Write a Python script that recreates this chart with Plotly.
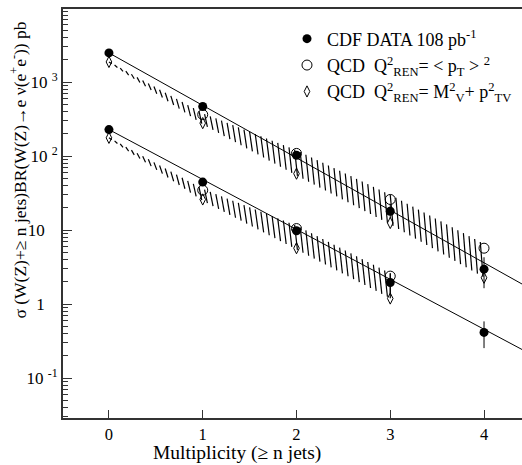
import numpy as np
import plotly.graph_objects as go

# ---------------- data ----------------
n_jets = [0, 1, 2, 3, 4]
n_jets_z = [0, 1, 2, 3, 4]

# W -> e nu (upper set)
w_data = [2490, 470, 103, 18, 2.97]
w_err_hi = [60, 15, 6, 4.5, 1.33]
w_err_lo = [60, 15, 6, 3.5, 1.33]
w_qcd_pt = [None, 365, 109, 26, 5.7]
w_qcd_mv = [1880, 280, 58, 12.5, 2.27]

# Z -> e e (lower set)
z_data = [229, 44.6, 9.8, 1.96, 0.414]
z_err_hi = [6, 1.5, 0.6, 0.66, 0.17]
z_err_lo = [6, 1.5, 0.6, 0.55, 0.16]
z_qcd_pt = [None, 34.7, 10.5, 2.39]
z_qcd_mv = [177, 26, 5.7, 1.19]

# fitted lines (endpoints)
fit_x = [0, 4.5]
w_fit = [2490, 1.6]
z_fit = [229, 0.21]

# hatched theory bands
w_band_x = [0, 1, 2, 3, 4]
w_band_hi = [1880, 380, 120, 30, 6.5]
w_band_lo = [1880, 270, 55, 12, 2.3]
z_band_x = [0, 1, 2, 3]
z_band_hi = [177, 36, 11.5, 2.6]
z_band_lo = [177, 25, 5.5, 1.2]

y_tickvals = [0.1, 1, 10, 100, 1000]
y_ticktext = ["10 <sup>-1</sup>", "1\u00a0\u00a0\u00a0", "10\u00a0\u00a0\u00a0", "10 <sup>2</sup>", "10 <sup>3</sup>"]
x_tickvals = [0, 1, 2, 3, 4]

FONT = "Liberation Serif"


def hatch(xs, hi, lo, step=0.06, lean=0.03):
    lhi = np.log10(hi)
    llo = np.log10(lo)
    hx, hy = [], []
    t = xs[0]
    while t <= xs[-1] + 1e-9:
        tb = min(t + lean, xs[-1])
        yt = 10 ** np.interp(t, xs, lhi)
        yb = 10 ** np.interp(tb, xs, llo)
        hx += [t, tb, None]
        hy += [yt, yb, None]
        t += step
    return hx, hy


fig = go.Figure()

for bx, bh, bl in [(w_band_x, w_band_hi, w_band_lo), (z_band_x, z_band_hi, z_band_lo)]:
    hx, hy = hatch(bx, bh, bl)
    fig.add_trace(go.Scatter(x=hx, y=hy, mode="lines", line=dict(color="black", width=1.2),
                             showlegend=False, hoverinfo="skip"))

for fy in [w_fit, z_fit]:
    fig.add_trace(go.Scatter(x=fit_x, y=fy, mode="lines", line=dict(color="black", width=1),
                             showlegend=False, hoverinfo="skip"))

# QCD <pT>^2
fig.add_trace(go.Scatter(x=n_jets, y=w_qcd_pt, mode="markers",
                         marker=dict(symbol="circle-open", size=10, color="black", line=dict(width=1)),
                         name="QCD\u00a0\u00a0Q<sup>2</sup><sub>REN</sub>=\u00a0< p<sub>T</sub> > <sup>2</sup>",
                         legendgroup="pt", legendrank=2))
fig.add_trace(go.Scatter(x=n_jets_z[:4], y=z_qcd_pt, mode="markers",
                         marker=dict(symbol="circle-open", size=10, color="black", line=dict(width=1)),
                         showlegend=False, legendgroup="pt"))
# QCD MV^2+pTV^2
fig.add_trace(go.Scatter(x=n_jets, y=w_qcd_mv, mode="markers",
                         marker=dict(symbol="diamond-tall-open", size=8, color="black", line=dict(width=1)),
                         name="QCD\u00a0\u00a0Q<sup>2</sup><sub>REN</sub>=\u00a0M<sup>2</sup><sub>V</sub>+ p<sup>2</sup><sub>TV</sub>",
                         legendgroup="mv", legendrank=3))
fig.add_trace(go.Scatter(x=n_jets_z[:4], y=z_qcd_mv, mode="markers",
                         marker=dict(symbol="diamond-tall-open", size=8, color="black", line=dict(width=1)),
                         showlegend=False, legendgroup="mv"))
# CDF data
fig.add_trace(go.Scatter(x=n_jets, y=w_data, mode="markers",
                         marker=dict(symbol="circle", size=9, color="black"),
                         error_y=dict(type="data", array=w_err_hi, arrayminus=w_err_lo, symmetric=False,
                                      color="black", thickness=1, width=0),
                         name="CDF DATA 108 pb<sup>-1</sup>", legendgroup="data", legendrank=1))
fig.add_trace(go.Scatter(x=n_jets_z, y=z_data, mode="markers",
                         marker=dict(symbol="circle", size=9, color="black"),
                         error_y=dict(type="data", array=z_err_hi, arrayminus=z_err_lo, symmetric=False,
                                      color="black", thickness=1, width=0),
                         showlegend=False, legendgroup="data"))

minor_vals = [k * 10.0 ** e for e in range(-2, 4) for k in range(2, 10)]

fig.update_layout(
    width=522, height=465,
    margin=dict(l=63, r=0, t=9, b=47),
    paper_bgcolor="white", plot_bgcolor="white",
    font=dict(family=FONT, size=16, color="black"),
    showlegend=True,
    legend=dict(x=0.488, y=0.972, xanchor="left", yanchor="top", bgcolor="rgba(0,0,0,0)",
                font=dict(family=FONT, size=18), tracegroupgap=0, itemwidth=30),
    xaxis=dict(range=[-0.49, 4.405], tickvals=x_tickvals, ticks="inside", ticklen=8,
               tickwidth=1, tickcolor="#333", showline=True, linewidth=2, linecolor="#333",
               mirror=True, showgrid=False, zeroline=False,
               tickfont=dict(family=FONT, size=16.5)),
    yaxis=dict(type="log", range=[-1.54, 3.99], tickvals=y_tickvals, ticktext=y_ticktext,
               ticks="inside", ticklen=9, tickwidth=1, tickcolor="#333",
               showline=True, linewidth=2, linecolor="#333", showgrid=False, zeroline=False,
               tickfont=dict(family=FONT, size=17),
               minor=dict(tickvals=minor_vals, ticks="inside", ticklen=5, tickwidth=1, tickcolor="#333")),
    annotations=[
        dict(text="σ (W(Z)+≥ n jets)BR(W(Z)→e ν(e<sup>+</sup>e<sup>-</sup>)) pb", textangle=-90,
             xref="paper", yref="paper", x=(18 - 63) / 459, y=0.605, xanchor="center", yanchor="middle",
             showarrow=False, font=dict(family=FONT, size=17.5)),
        dict(text="Multiplicity (≥ n jets)", xref="paper", yref="paper", x=(237 - 63) / 459,
             y=-0.086, yanchor="middle", xanchor="center", showarrow=False,
             font=dict(family=FONT, size=19.5)),
    ],
)

fig.write_html("out.html")
